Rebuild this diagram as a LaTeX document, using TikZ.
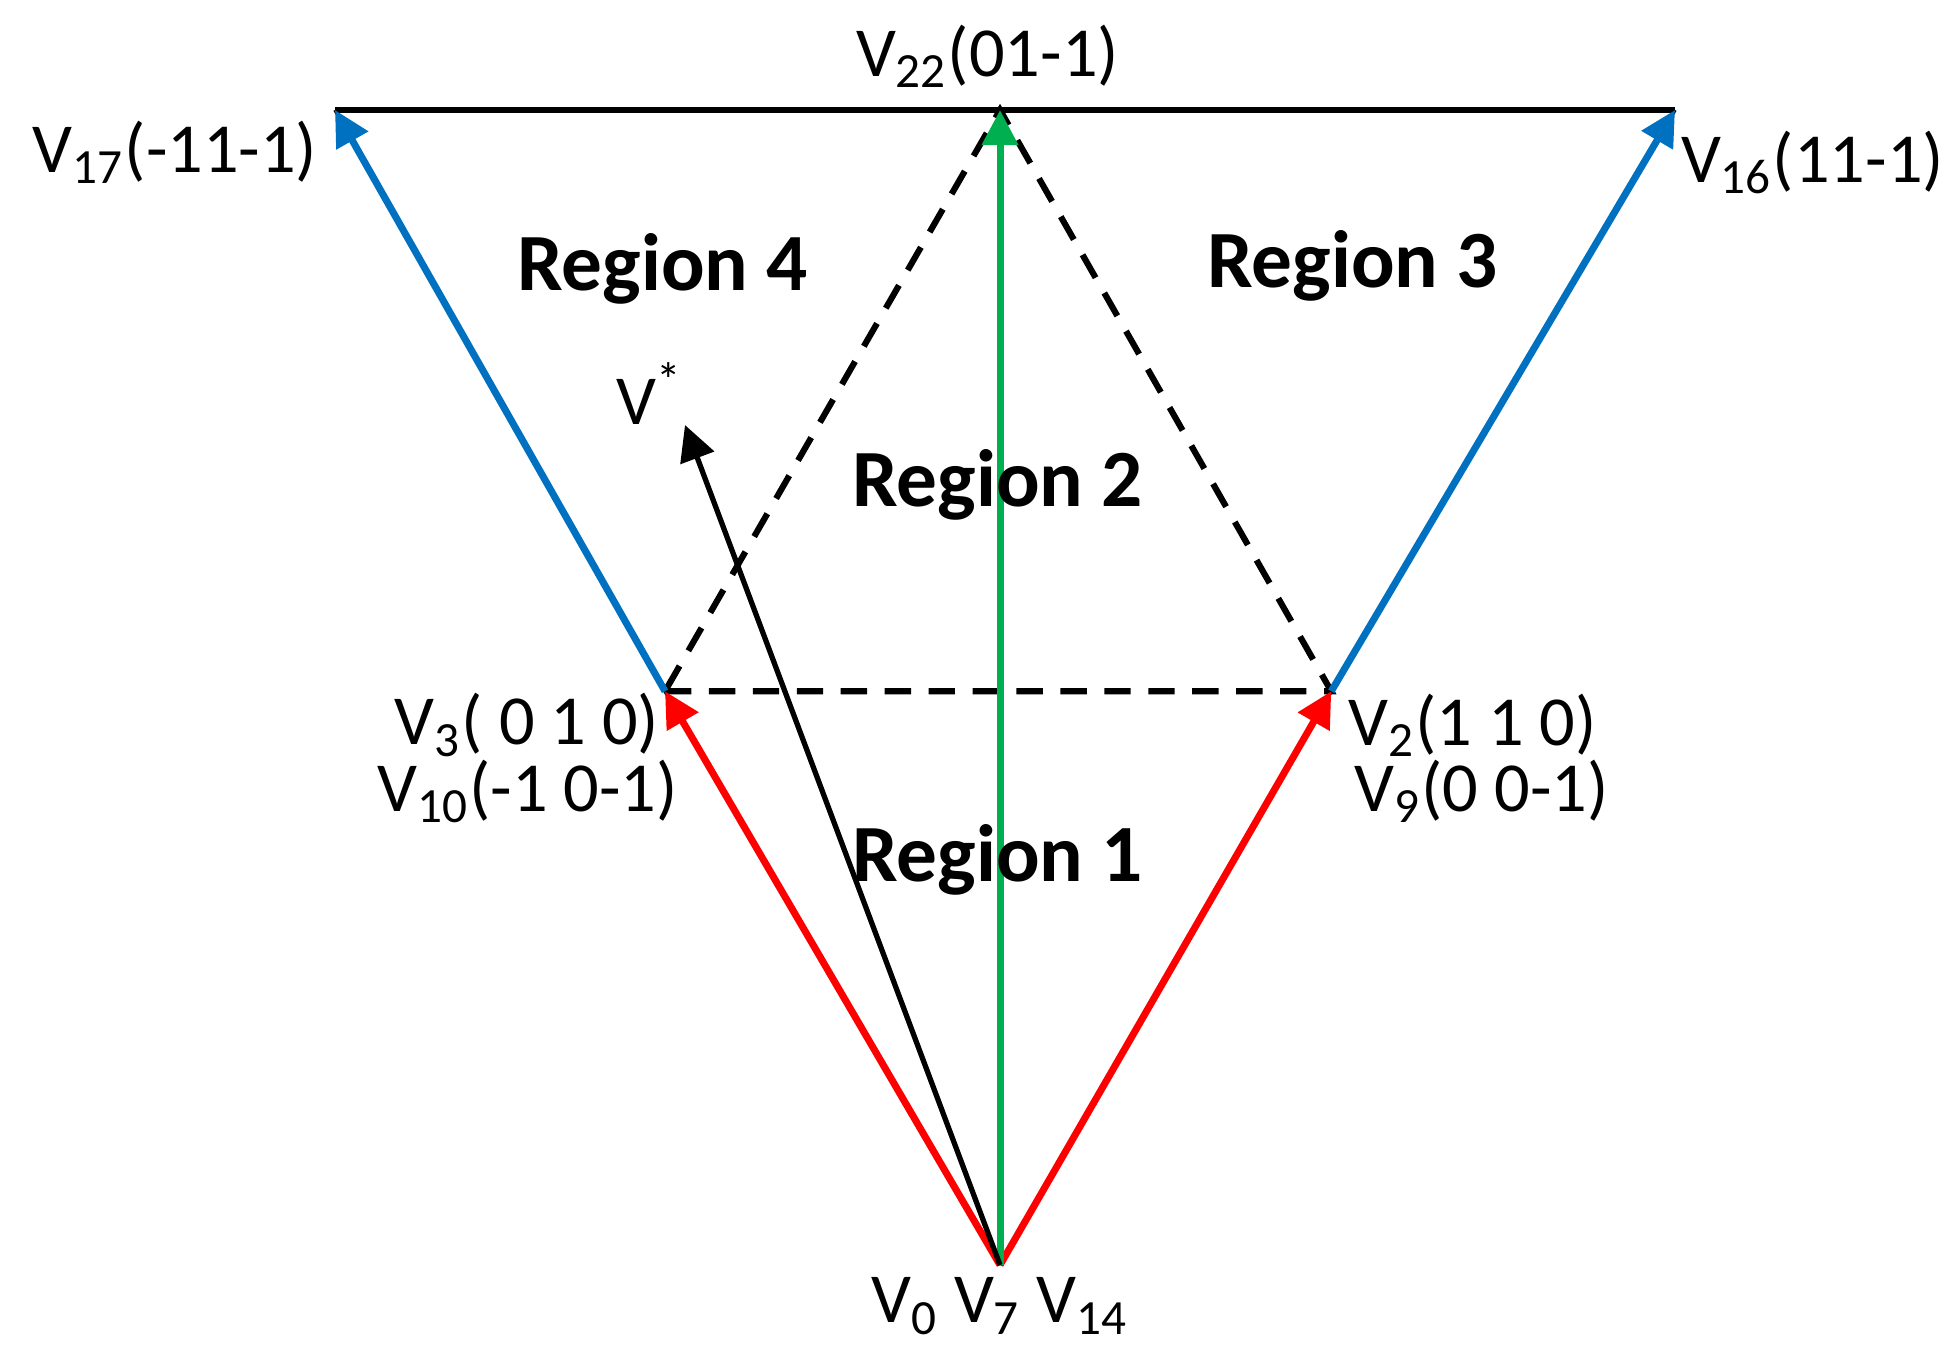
\documentclass[tikz,border=0pt]{standalone}
\usepackage{fontspec}
\setmainfont{Carlito}
\usetikzlibrary{arrows.meta}
\definecolor{vblue}{RGB}{0,112,192}
\definecolor{vgreen}{RGB}{0,176,80}
\begin{document}
\begin{tikzpicture}[
  vec/.style={line width=1.6pt,-{Triangle[length=8pt,width=8pt]}},
  lbl/.style={font=\fontsize{16}{18}\selectfont,inner sep=0pt},
  reg/.style={font=\bfseries\fontsize{18.5}{20}\selectfont,inner sep=0pt},
  dsh/.style={line width=1.4pt,dash pattern=on 6pt off 4pt}]
\useasboundingbox (0,0) rectangle (15.68,-10.94);
\coordinate (O) at (8.0,-10.12);
\coordinate (V3) at (5.32,-5.53);
\coordinate (V2) at (10.65,-5.53);
\coordinate (V22) at (8.0,-0.88);
\coordinate (V17) at (2.68,-0.88);
\coordinate (V16) at (13.40,-0.88);
\coordinate (Vs) at (5.48,-3.40);
\draw[line width=1.2pt] (V17) -- (V16);
\draw[line width=0.8pt] (O) -- (V3) -- (V17);
\draw[line width=0.8pt] (O) -- (V2) -- (V16);
\draw[dsh] (V3) -- (V2) -- (V22) -- (V3);
\draw[vec,red] (O) -- (V3);
\draw[vec,red] (O) -- (V2);
\draw[vec,vblue] (V3) -- (V17);
\draw[vec,vblue] (V2) -- (V16);
\draw[vec,vgreen] (O) -- (V22);
\draw[vec,black,line width=1.2pt] (O) -- (Vs);
\node[lbl] (l22) at (7.9,-0.45) {V\textsubscript{22}(01-1)};
\node[lbl] (l17) at (1.40,-1.22) {V\textsubscript{17}(-11-1)};
\node[lbl] (l16) at (14.5,-1.30) {V\textsubscript{16}(11-1)};
\node[lbl] (ls) at (5.20,-3.15) {V\textsuperscript{*}};
\node[lbl,anchor=east] (l3) at (5.28,-5.80) {V\textsubscript{3}( 0 1 0)};
\node[lbl,anchor=east] (l10) at (5.43,-6.33) {V\textsubscript{10}(-1 0-1)};
\node[lbl,anchor=west] (l2) at (10.78,-5.80) {V\textsubscript{2}(1 1 0)};
\node[lbl,anchor=west] (l9) at (10.83,-6.33) {V\textsubscript{9}(0 0-1)};
\node[lbl] (l0) at (8.0,-10.45) {V\textsubscript{0} V\textsubscript{7} V\textsubscript{14}};
\node[reg] (r4) at (5.30,-2.15) {Region 4};
\node[reg] (r3) at (10.82,-2.13) {Region 3};
\node[reg] (r2) at (7.98,-3.88) {Region 2};
\node[reg] (r1) at (7.98,-6.88) {Region 1};
\end{tikzpicture}
\end{document}
